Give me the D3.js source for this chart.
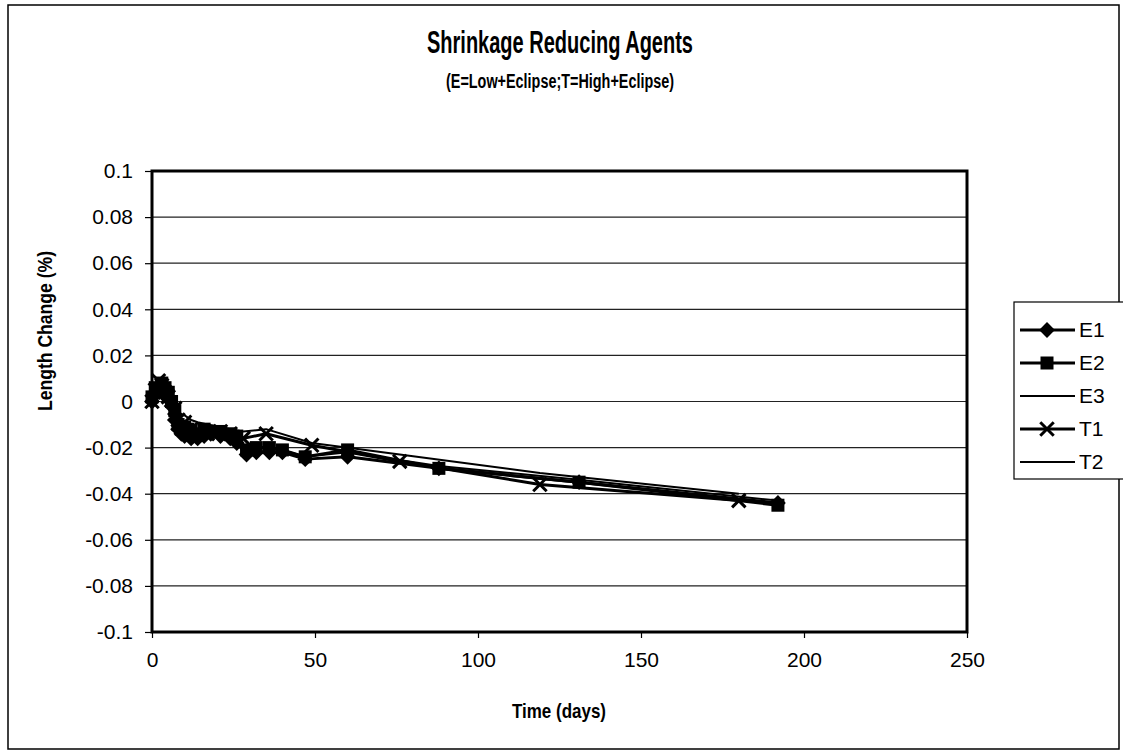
<!DOCTYPE html>
<html>
<head>
<meta charset="utf-8">
<script src="https://cdn.jsdelivr.net/npm/d3@7"></script>
<style>
  body { margin: 0; background: #fff; }
  text { font-family: "Liberation Sans", Arial, sans-serif; fill: #000; }
</style>
</head>
<body>
<script>
// test dates (days) and length change (%)
const daysE = [0,1,2,3,4,5,6,7,8,9,10,11,12,14,16,18,21,24,26,29,32,36,40,47,60,88,131,192]
const e1 = [0,.004,.006,.005,.003,.001,-.002,-.008,-.012,-.014,-.015,-.014,-.016,-.016,-.015,-.014,-.015,-.016,-.018,-.023,-.022,-.022,-.022,-.025,-.024,-.029,-.035,-.044]
const e2 = [.002,.006,.004,.008,.006,.004,0,-.004,-.010,-.012,-.011,-.012,-.013,-.014,-.012,-.013,-.013,-.014,-.015,-.021,-.020,-.020,-.021,-.024,-.021,-.029,-.035,-.045]
const e3 = [0,.003,.005,.004,.003,.002,-.001,-.006,-.010,-.012,-.012,-.013,-.014,-.014,-.014,-.014,-.014,-.015,-.016,-.020,-.020,-.020,-.021,-.024,-.022,-.028,-.034,-.043]

const daysT = [0,1,2,3,4,5,7,8,10,12,14,17,21,24,28,35,49,76,119,180]
const t1 = [0,.005,.009,.007,.004,.002,-.003,-.008,-.009,-.012,-.013,-.014,-.013,-.014,-.016,-.014,-.019,-.026,-.036,-.043]
const t2 = [0,.004,.007,.006,.005,.003,0,-.005,-.006,-.008,-.009,-.010,-.011,-.012,-.013,-.012,-.018,-.023,-.031,-.040]

const seriesNames = ["E1","E2","E3","T1","T2"]
const markerKinds = ["diamond","square","none","cross","none"]
const xTicks = [0,50,100,150,200,250]
const yTicks = [0.1,0.08,0.06,0.04,0.02,0,-0.02,-0.04,-0.06,-0.08,-0.1]

const W = 1123, H = 756
const plot = {left: 152, right: 967, top: 171, bottom: 632}

let svg = d3.select("body").append("svg")
    .attr("width", W)
    .attr("height", H)

/** outer chart frame */
svg.append("rect")
    .attr("x", 8).attr("y", 5)
    .attr("width", 1111).attr("height", 744)
    .attr("fill", "#fff")
    .attr("stroke", "#000")
    .attr("stroke-width", 1.5)

let x = d3.scaleLinear().domain([0, 250]).range([plot.left, plot.right])
let y = d3.scaleLinear().domain([-0.1, 0.1]).range([plot.bottom, plot.top])

/** gridlines */
svg.append("g")
    .selectAll("line")
    .data(yTicks.slice(1, -1))
    .enter().append("line")
    .attr("x1", plot.left).attr("x2", plot.right)
    .attr("y1", d => y(d)).attr("y2", d => y(d))
    .attr("stroke", "#222")
    .attr("stroke-width", 1.2)

/** axes - ticks and labels (plain hyphen for negatives, like the original) */
let yAxis = svg.append("g")
    .attr("transform", `translate(${plot.left},0)`)
    .call(d3.axisLeft(y).tickValues(yTicks).tickSize(7).tickPadding(12)
        .tickFormat(d => String(+d.toFixed(2))))
yAxis.select(".domain").remove()
yAxis.selectAll("text").attr("font-size", 21)
yAxis.selectAll("line").attr("stroke-width", 1.2)

let xAxis = svg.append("g")
    .attr("transform", `translate(0,${plot.bottom})`)
    .call(d3.axisBottom(x).tickValues(xTicks).tickSize(6).tickPadding(14))
xAxis.select(".domain").remove()
xAxis.selectAll("text").attr("font-size", 21)
xAxis.selectAll("line").attr("stroke-width", 1.2)

/** plot area border */
svg.append("rect")
    .attr("x", plot.left).attr("y", plot.top)
    .attr("width", plot.right - plot.left)
    .attr("height", plot.bottom - plot.top)
    .attr("fill", "none")
    .attr("stroke", "#000")
    .attr("stroke-width", 3)

/** series */
const seriesDays = [daysE, daysE, daysE, daysT, daysT]
const seriesVals = [e1, e2, e3, t1, t2]
const lineWidths = [3, 3, 2, 3, 2]

let line = d3.line().x(d => x(d[0])).y(d => y(d[1]))

function drawMarker(g, kind, cx, cy) {
    if (kind === "diamond") {
        g.append("path").attr("d", d3.symbol(d3.symbolDiamond2, 160)())
            .attr("transform", `translate(${cx},${cy})`).attr("fill", "#000")
    } else if (kind === "square") {
        g.append("rect").attr("x", cx - 6.5).attr("y", cy - 6.5)
            .attr("width", 13).attr("height", 13).attr("fill", "#000")
    } else if (kind === "cross") {
        g.append("path").attr("d", d3.symbol(d3.symbolX, 120)())
            .attr("transform", `translate(${cx},${cy})`)
            .attr("stroke", "#000").attr("stroke-width", 3).attr("fill", "none")
    }
}

seriesNames.forEach((name, i) => {
    let pts = seriesDays[i].map((d, j) => [d, seriesVals[i][j]])
    let g = svg.append("g").attr("class", "series-" + name)
    g.append("path")
        .attr("d", line(pts))
        .attr("fill", "none")
        .attr("stroke", "#000")
        .attr("stroke-width", lineWidths[i])
        .attr("stroke-linejoin", "round")
    pts.forEach(p => drawMarker(g, markerKinds[i], x(p[0]), y(p[1])))
})

/** titles - the scanned lettering is condensed, so squeeze to the original widths */
svg.append("text")
    .attr("x", 560).attr("y", 53)
    .attr("text-anchor", "middle")
    .attr("font-size", 31).attr("font-weight", "bold")
    .attr("textLength", 266).attr("lengthAdjust", "spacingAndGlyphs")
    .text("Shrinkage Reducing Agents")

svg.append("text")
    .attr("x", 560).attr("y", 88)
    .attr("text-anchor", "middle")
    .attr("font-size", 20).attr("font-weight", "bold")
    .attr("textLength", 228).attr("lengthAdjust", "spacingAndGlyphs")
    .text("(E=Low+Eclipse;T=High+Eclipse)")

svg.append("text")
    .attr("x", 559).attr("y", 718)
    .attr("text-anchor", "middle")
    .attr("font-size", 21).attr("font-weight", "bold")
    .attr("textLength", 94).attr("lengthAdjust", "spacingAndGlyphs")
    .text("Time (days)")

svg.append("text")
    .attr("transform", "translate(52,331) rotate(-90)")
    .attr("text-anchor", "middle")
    .attr("font-size", 21).attr("font-weight", "bold")
    .attr("textLength", 160).attr("lengthAdjust", "spacingAndGlyphs")
    .text("Length Change (%)")

/** legend */
let legend = svg.append("g")
legend.append("rect")
    .attr("x", 1014).attr("y", 302)
    .attr("width", 120).attr("height", 177)
    .attr("fill", "#fff")
    .attr("stroke", "#000")
    .attr("stroke-width", 1.2)

seriesNames.forEach((name, i) => {
    let ly = 330 + i * 33
    legend.append("line")
        .attr("x1", 1020).attr("x2", 1075)
        .attr("y1", ly).attr("y2", ly)
        .attr("stroke", "#000")
        .attr("stroke-width", lineWidths[i])
    drawMarker(legend, markerKinds[i], 1047, ly)
    legend.append("text")
        .attr("x", 1079).attr("y", ly + 7)
        .attr("font-size", 21)
        .text(name)
})
</script>
</body>
</html>
